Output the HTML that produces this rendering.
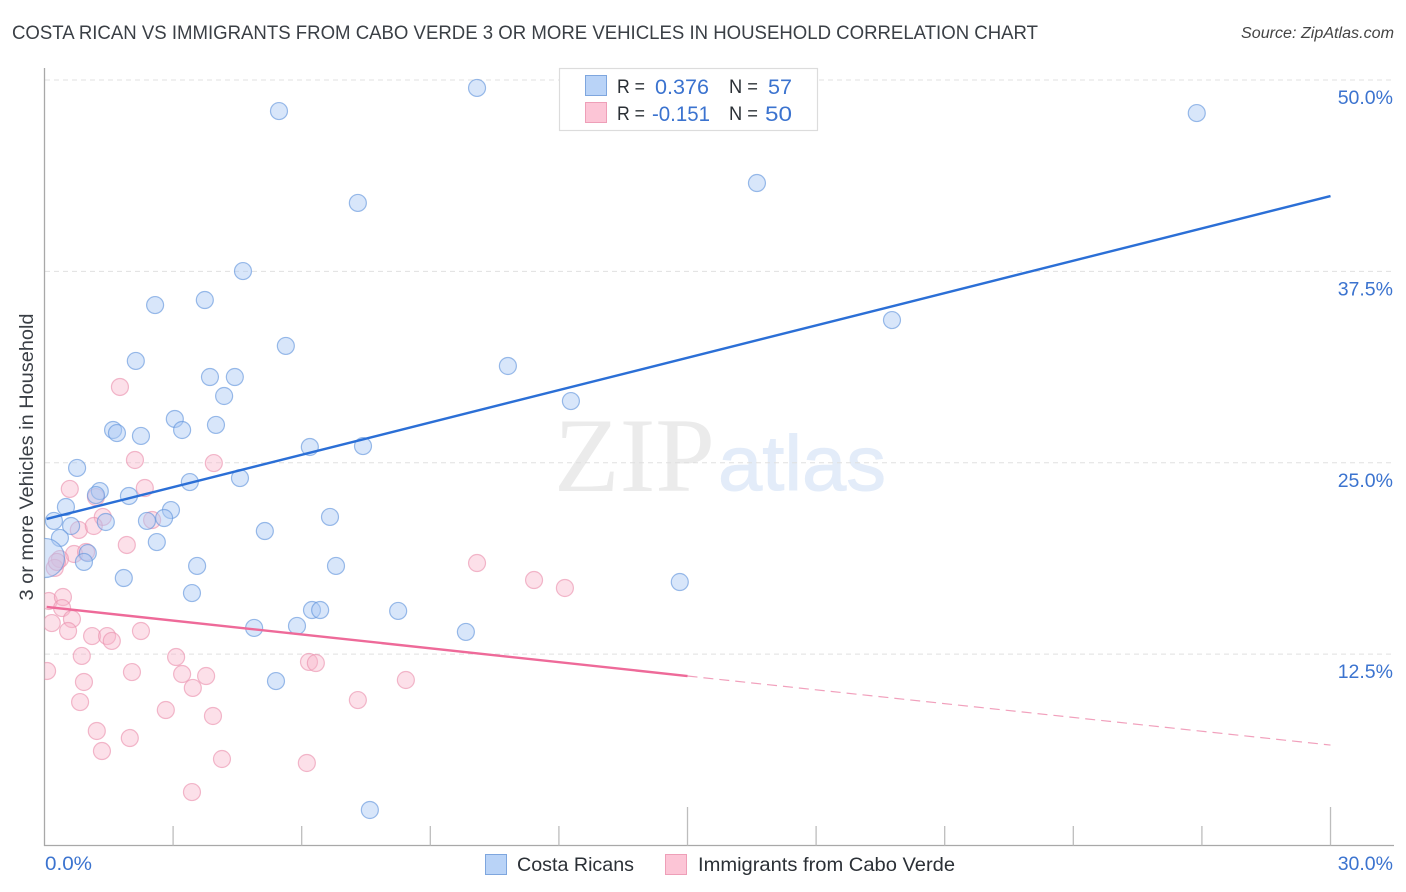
<!DOCTYPE html>
<html lang="en">
<head>
<meta charset="utf-8">
<title>Costa Rican vs Immigrants from Cabo Verde Correlation Chart</title>
<style>
html,body{margin:0;padding:0;background:#fff;}
body{width:1406px;height:892px;overflow:hidden;font-family:"Liberation Sans",sans-serif;}
svg{display:block;}
text{font-family:"Liberation Sans",sans-serif;}
</style>
</head>
<body>
<svg id="chart" xmlns="http://www.w3.org/2000/svg" width="1406" height="892" viewBox="0 0 1406 892">
  <defs><clipPath id="plot-clip"><rect x="44.5" y="60" width="1350" height="786"></rect></clipPath></defs>
  <text x="12" y="39" font-size="19" fill="#3a3f45" textLength="1026" lengthAdjust="spacingAndGlyphs">COSTA RICAN VS IMMIGRANTS FROM CABO VERDE 3 OR MORE VEHICLES IN HOUSEHOLD CORRELATION CHART</text>
  <text x="1394" y="38" font-size="15.5" font-style="italic" fill="#444" text-anchor="end" textLength="153" lengthAdjust="spacingAndGlyphs">Source: ZipAtlas.com</text>
  <g>
    <text x="554" y="491" font-size="106" fill="#ebebeb" textLength="161" lengthAdjust="spacingAndGlyphs" style="font-family:'Liberation Serif',serif">ZIP</text>
    <text x="718" y="490" font-size="78" fill="#e3ecf9" stroke="#e3ecf9" stroke-width="1" textLength="168" lengthAdjust="spacingAndGlyphs">atlas</text>
  </g>
  <g id="grid"></g>
  <g id="axes"></g>
  <g id="points" clip-path="url(#plot-clip)"></g>
  <g id="trends"></g>
  <text transform="translate(33,457) rotate(-90)" font-size="19" fill="#3a3f45" text-anchor="middle" textLength="287" lengthAdjust="spacingAndGlyphs">3 or more Vehicles in Household</text>

  <g>
    <rect x="559.5" y="68.5" width="258" height="62" fill="#fff" stroke="#dcdcdc" stroke-width="1.2"></rect>
    <rect x="585.5" y="75.5" width="21" height="20" fill="#b9d3f7" stroke="#7ea6de" stroke-width="1"></rect>
    <rect x="585.5" y="102.5" width="21" height="20" fill="#fcc5d6" stroke="#ee9fb8" stroke-width="1"></rect>
    <text x="617" y="93" font-size="19.5" fill="#2b3036" textLength="28" lengthAdjust="spacingAndGlyphs">R =</text>
    <text x="655" y="94" font-size="21.5" fill="#3b73cf" textLength="54" lengthAdjust="spacingAndGlyphs">0.376</text>
    <text x="729" y="93" font-size="19.5" fill="#2b3036" textLength="29" lengthAdjust="spacingAndGlyphs">N =</text>
    <text x="768" y="94" font-size="21.5" fill="#3b73cf" textLength="24" lengthAdjust="spacingAndGlyphs">57</text>
    <text x="617" y="120" font-size="19.5" fill="#2b3036" textLength="28" lengthAdjust="spacingAndGlyphs">R =</text>
    <text x="652" y="121" font-size="21.5" fill="#3b73cf" textLength="58" lengthAdjust="spacingAndGlyphs">-0.151</text>
    <text x="729" y="120" font-size="19.5" fill="#2b3036" textLength="29" lengthAdjust="spacingAndGlyphs">N =</text>
    <text x="765" y="121" font-size="21.5" fill="#3b73cf" textLength="27" lengthAdjust="spacingAndGlyphs">50</text>
  </g>

  <g>
    <rect x="485.5" y="854.5" width="21" height="20" fill="#b9d3f7" stroke="#7ea6de" stroke-width="1"></rect>
    <text x="517" y="871" font-size="19.5" fill="#2b3036" textLength="117" lengthAdjust="spacingAndGlyphs">Costa Ricans</text>
    <rect x="665.5" y="854.5" width="21" height="20" fill="#fcc5d6" stroke="#ee9fb8" stroke-width="1"></rect>
    <text x="698" y="871" font-size="19.5" fill="#2b3036" textLength="257" lengthAdjust="spacingAndGlyphs">Immigrants from Cabo Verde</text>
  </g>
</svg>
<script>
var xTicks = [3, 6, 9, 12, 15, 18, 21, 24, 27, 30];
var xMajorTicks = [15, 30];
var xEdgeLabels = ["0.0%", "30.0%"];
var yTicks = [12.5, 25, 37.5, 50];
var yTickLabels = ["12.5%", "25.0%", "37.5%", "50.0%"];

var blueX = [5.47,10.09,26.88,16.62,7.31,4.63,3.74,2.58,19.77,5.63,2.13,10.81,3.86,4.44,4.19,12.28,3.04,4.00,3.21,1.60,1.69,2.25,6.19,7.43,0.76,4.56,3.39,1.29,1.20,1.97,0.50,2.95,2.79,6.66,2.39,1.43,0.22,0.62,5.14,0.36,2.62,1.01,0.92,3.56,6.80,1.85,14.82,3.44,6.24,6.43,8.25,5.89,4.89,9.83,5.40,7.59,0.01];
var blueY = [47.97,49.48,47.84,43.27,41.97,37.52,35.63,35.30,34.32,32.63,31.65,31.32,30.60,30.60,29.36,29.03,27.86,27.47,27.14,27.14,26.94,26.75,26.03,26.09,24.66,24.00,23.74,23.15,22.89,22.83,22.11,21.91,21.39,21.46,21.20,21.13,21.20,20.87,20.54,20.09,19.82,19.10,18.52,18.26,18.26,17.47,17.21,16.49,15.38,15.38,15.32,14.34,14.21,13.95,10.74,2.32,18.78];
var blueWeight = [1,1,1,1,1,1,1,1,1,1,1,1,1,1,1,1,1,1,1,1,1,1,1,1,1,1,1,1,1,1,1,1,1,1,1,1,1,1,1,1,1,1,1,1,1,1,1,1,1,1,1,1,1,1,1,1,2.3];

var pinkX = [1.76,2.11,3.95,0.59,2.34,1.20,1.36,0.80,2.51,1.15,1.92,0.69,0.97,0.36,10.09,0.24,11.42,12.14,0.10,0.43,0.41,0.64,0.17,0.55,1.11,1.46,1.57,2.25,0.87,3.07,6.17,6.33,0.06,2.04,3.21,3.77,0.92,8.43,3.46,0.83,7.31,2.83,3.93,1.22,1.99,1.34,4.14,6.12,3.44,0.29];
var pinkY = [29.95,25.18,24.98,23.29,23.35,22.76,21.46,20.61,21.26,20.87,19.63,19.04,19.17,18.71,18.45,18.13,17.34,16.82,15.97,16.23,15.51,14.79,14.53,14.01,13.68,13.68,13.36,14.01,12.38,12.31,11.99,11.92,11.40,11.33,11.20,11.07,10.68,10.81,10.29,9.37,9.50,8.85,8.46,7.48,7.02,6.17,5.65,5.39,3.49,18.52];

var blueTrendX = [0.05, 30];
var blueTrendY = [21.33, 42.42];
var pinkSolidX = [0.05, 15];
var pinkSolidY = [15.58, 11.07];
var pinkDashX = [15, 30];
var pinkDashY = [11.07, 6.56];

var NS = "http://www.w3.org/2000/svg";
function sx(v) { return 44.5 + v * 42.867; }
function sy(v) { return 845.5 - v * 15.31; }
function make(parent, tag, attrs) {
  var el = document.createElementNS(NS, tag);
  for (var k in attrs) { el.setAttribute(k, attrs[k]); }
  parent.appendChild(el);
  return el;
}
var grid = document.getElementById("grid");
var axes = document.getElementById("axes");
var points = document.getElementById("points");
var trends = document.getElementById("trends");

yTicks.forEach(function (t, i) {
  var g = make(grid, "line", {x1: 45, x2: 1393, y1: sy(t), y2: sy(t), stroke: "#e0e0e0", "stroke-width": 1, "stroke-dasharray": "5 4"});
  
  
  var lab = make(axes, "text", {x: 1393, y: sy(t) + 24, "font-size": 19.5, fill: "#3b73cf", "text-anchor": "end"});
  lab.textContent = yTickLabels[i];
  
  
});

var yAxis = make(axes, "line", {x1: 44.5, x2: 44.5, y1: 68, y2: 846, stroke: "#a8a8a8", "stroke-width": 1.3});


var xAxis = make(axes, "line", {x1: 44, x2: 1394, y1: 845.5, y2: 845.5, stroke: "#a8a8a8", "stroke-width": 1.3});



xTicks.forEach(function (t) {
  var top = xMajorTicks.indexOf(t) >= 0 ? 807 : 826;
  var tick = make(axes, "line", {x1: sx(t), x2: sx(t), y1: top, y2: 845.5, stroke: "#bdbdbd", "stroke-width": 1.3});
  
  
});

var xLabLeft = make(axes, "text", {x: 45, y: 870, "font-size": 19.5, fill: "#3b73cf", textLength: 47, lengthAdjust: "spacingAndGlyphs"});
xLabLeft.textContent = xEdgeLabels[0];


var xLabRight = make(axes, "text", {x: 1393, y: 870, "font-size": 19.5, fill: "#3b73cf", "text-anchor": "end"});
xLabRight.textContent = xEdgeLabels[1];



pinkX.forEach(function (v, i) {
  var c = make(points, "circle", {cx: sx(v), cy: sy(pinkY[i]), r: 8.5, fill: "#f9b6cb", "fill-opacity": 0.42, stroke: "#ea8fad", "stroke-opacity": 0.62, "stroke-width": 1.2});
  
  
});
blueX.forEach(function (v, i) {
  var c = make(points, "circle", {cx: sx(v), cy: sy(blueY[i]), r: 8.5 * blueWeight[i], fill: "#a9c9f4", "fill-opacity": 0.46, stroke: "#5f93dc", "stroke-opacity": 0.62, "stroke-width": 1.2});
  
  
});

var blueLine = make(trends, "line", {x1: sx(blueTrendX[0]), y1: sy(blueTrendY[0]), x2: sx(blueTrendX[1]), y2: sy(blueTrendY[1]), stroke: "#2b6fd6", "stroke-width": 2.4});


var pinkLine = make(trends, "line", {x1: sx(pinkSolidX[0]), y1: sy(pinkSolidY[0]), x2: sx(pinkSolidX[1]), y2: sy(pinkSolidY[1]), stroke: "#ee6a99", "stroke-width": 2.4});


var pinkDash = make(trends, "line", {x1: sx(pinkDashX[0]), y1: sy(pinkDashY[0]), x2: sx(pinkDashX[1]), y2: sy(pinkDashY[1]), stroke: "#ee8fb0", "stroke-width": 1.2, "stroke-opacity": 0.85, "stroke-dasharray": "10 6"});


</script>
</body>
</html>
